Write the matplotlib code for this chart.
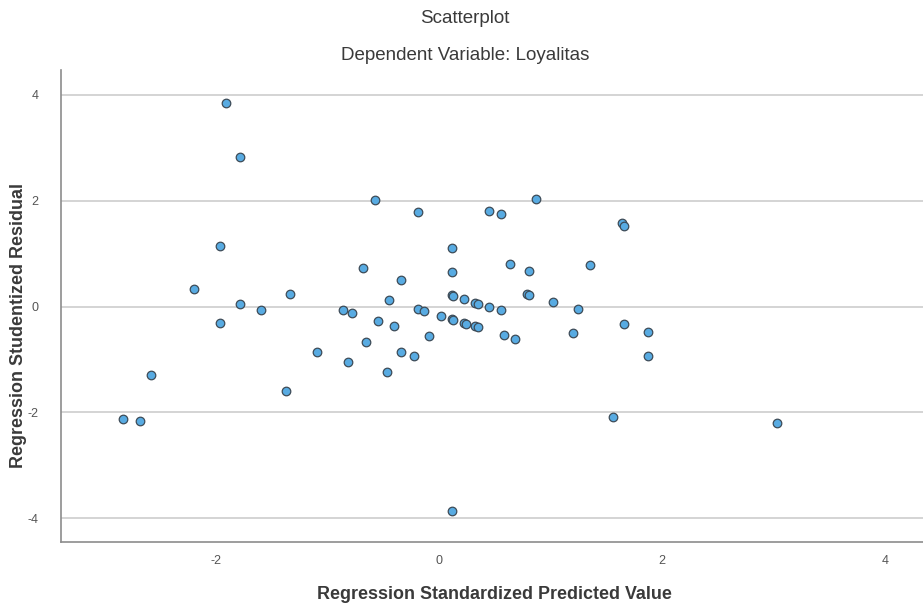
import matplotlib
matplotlib.use("Agg")
import matplotlib.pyplot as plt

plt.rcParams["axes.unicode_minus"] = False

# Regression standardized predicted value (x) vs studentized residual (y)
pred = [-1.91, -1.78, -1.96, -2.20, -1.78, -1.60, -1.34, -1.96, -2.58, -2.83, -2.68, -1.37,
        -0.57, -0.19, 0.45, 0.56, 0.87, 0.12, -0.68, -0.34, 0.12, 0.64, 0.81, 1.35,
        0.12, 0.13, 0.22, 0.32, 0.35, 0.45, 0.56, 0.79, 0.81, 1.02, 1.25,
        -0.45, -0.86, -0.78, -0.19, -0.13, 0.02, 0.12, 0.13, 0.22, 0.24, 0.32, 0.35,
        -0.55, -0.40, -0.09, 0.58, 0.68, 1.20, -0.65, -1.09, -0.82, -0.34, -0.22, -0.47,
        0.12, 1.64, 1.66, 1.66, 1.87, 1.87, 1.56, 3.03]
resid = [3.84, 2.83, 1.15, 0.34, 0.05, -0.06, 0.23, -0.31, -1.29, -2.13, -2.17, -1.60,
         2.01, 1.79, 1.81, 1.74, 2.03, 1.11, 0.72, 0.50, 0.66, 0.80, 0.68, 0.79,
         0.21, 0.20, 0.14, 0.07, 0.05, 0.00, -0.07, 0.24, 0.22, 0.09, -0.05,
         0.12, -0.07, -0.13, -0.04, -0.09, -0.18, -0.24, -0.25, -0.31, -0.33, -0.37, -0.39,
         -0.27, -0.37, -0.56, -0.54, -0.61, -0.50, -0.67, -0.85, -1.04, -0.86, -0.94, -1.24,
         -3.87, 1.57, 1.52, -0.33, -0.48, -0.94, -2.09, -2.20]
ticks = [-4, -2, 0, 2, 4]

fig = plt.figure(figsize=(9.23, 6.09), dpi=100)
ax = fig.add_axes([0.066, 0.110, 0.934, 0.775])

ax.scatter(pred, resid, s=38, color="#58abe2", edgecolors="#3d4b57", linewidths=0.9, zorder=3)

ax.set_xlim(-3.39, 4.34)
ax.set_ylim(-4.45, 4.47)
ax.set_xticks(ticks[1:])
ax.set_yticks(ticks)
ax.grid(axis="y", color="#d4d4d4", lw=1.4)
ax.set_axisbelow(True)
for s in ("top", "right"):
    ax.spines[s].set_visible(False)
for s in ("left", "bottom"):
    ax.spines[s].set_color("#8c8c8c")
    ax.spines[s].set_linewidth(1.2)
ax.tick_params(length=0, labelsize=9, labelcolor="#555555")
ax.tick_params(axis="y", pad=16)
ax.tick_params(axis="x", pad=9)
for lab in ax.get_xticklabels() + ax.get_yticklabels():
    lab.set_family(["Liberation Sans Narrow", "Liberation Sans", "DejaVu Sans"])

fig.text(0.504, 0.970, "Scatterplot", ha="center", va="center", fontsize=13.5,
         color="#3a3a3a", family="Liberation Sans")
fig.text(0.504, 0.909, "Dependent Variable: Loyalitas", ha="center", va="center", fontsize=13.5,
         color="#3a3a3a", family="Liberation Sans")
fig.text(0.536, 0.023, "Regression Standardized Predicted Value", ha="center", va="center",
         fontsize=12.9, fontweight="bold", color="#3a3a3a", family="Liberation Sans")
fig.text(0.020, 0.466, "Regression Studentized Residual", ha="center", va="center",
         rotation=90, fontsize=12.9, fontweight="bold", color="#3a3a3a", family="Liberation Sans")

fig.savefig("out.png", dpi=100)
